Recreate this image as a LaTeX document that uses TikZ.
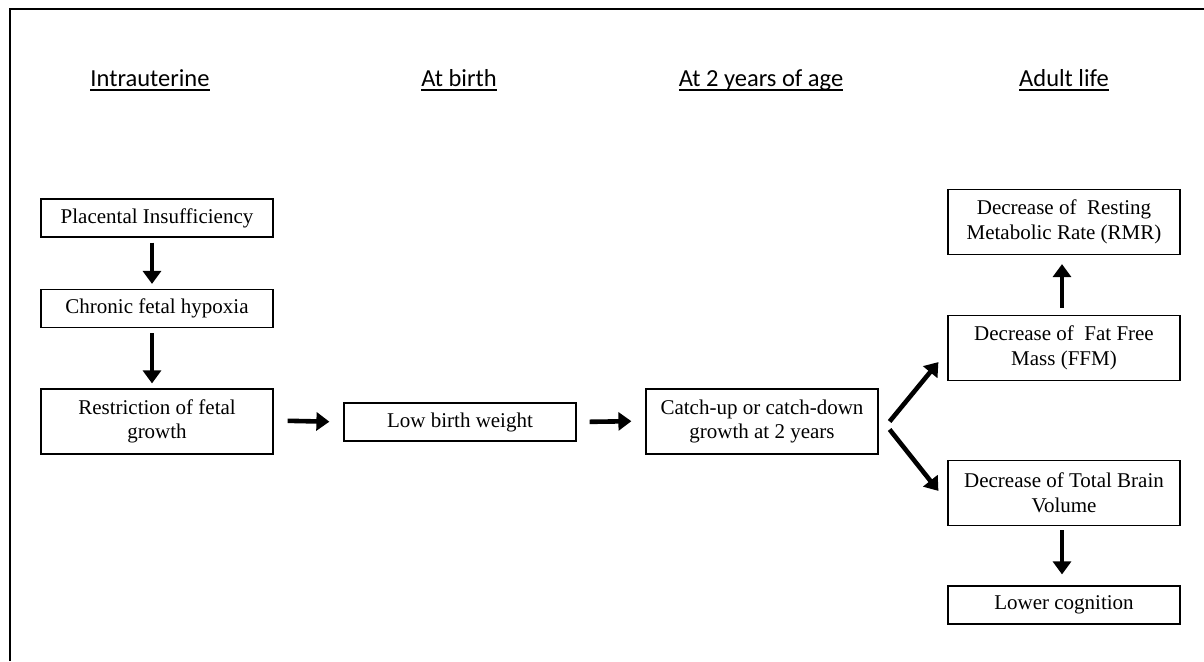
\documentclass[tikz,border=0pt]{standalone}
\usepackage{fontspec}
\setmainfont{Liberation Serif}
\newfontfamily\hfont{Carlito}
\usetikzlibrary{arrows.meta}
\newcommand\hul[1]{\setbox0\hbox{#1}\rlap{\rule[-4.5pt]{\wd0}{1.8pt}}\box0}
\begin{document}
\begin{tikzpicture}[x=1pt,y=-1pt,
  box/.style={draw,line width=1.2pt,minimum width=232pt,align=center,inner sep=0pt,
    font=\fontsize{21}{24.5}\selectfont},
  one/.style={box,minimum height=38pt},
  two/.style={box,minimum height=65pt},
  head/.style={anchor=base,inner sep=0pt,font=\hfont\fontsize{24.5}{28}\selectfont},
  arr/.style={line width=4.6pt,-{Triangle[length=13pt,width=18pt]}}]
\useasboundingbox (0,0) rectangle (1204,661);
\draw[line width=2pt] (10,661) -- (10,9) -- (1204,9);
% headings
\node[head] (h1) at (150,86) {\hul{Intrauterine}};
\node[head] (h2) at (459,86) {\hul{At birth}};
\node[head] (h3) at (761,86) {\hul{At 2 years of age}};
\node[head] (h4) at (1064,86) {\hul{Adult life}};
% boxes
\node[one] (pi) at (157,218) {Placental Insufficiency};
\node[one] (cf) at (157,308.5) {Chronic fetal hypoxia};
\node[two] (rf) at (157,421.5) {Restriction of fetal\\growth};
\node[one] (lbw) at (460,422) {Low birth weight};
\node[two] (cu) at (762,421.5) {Catch-up or catch-down\\growth at 2 years};
\node[two] (rmr) at (1064,222) {Decrease of\ \ Resting\\Metabolic Rate (RMR)};
\node[two] (ffm) at (1064,348) {Decrease of\ \ Fat Free\\Mass (FFM)};
\node[two] (br) at (1064,493) {Decrease of Total Brain\\Volume};
\node[one] (lc) at (1064,605) {Lower cognition};
% arrows
\draw[arr,shorten <=5pt,shorten >=5pt] ([xshift=-5pt]pi.south) -- ([xshift=-5pt]cf.north);
\draw[arr,shorten <=5pt,shorten >=5pt] ([xshift=-5pt]cf.south) -- ([xshift=-5pt]rf.north);
\draw[arr,shorten <=14pt,shorten >=14pt] ([yshift=1pt]rf.east) -- (lbw.west);
\draw[arr,shorten <=13pt,shorten >=14pt] (lbw.east) -- ([yshift=0.5pt]cu.west);
\draw[arr] ([shift={(11,0)}]cu.east) -- ([shift={(-9,-19)}]ffm.south west);
\draw[arr] ([shift={(11,8)}]cu.east) -- ([shift={(-9,31)}]br.north west);
\draw[arr,shorten <=7pt,shorten >=9pt] ([xshift=-2pt]ffm.north) -- ([xshift=-2pt]rmr.south);
\draw[arr,shorten <=4pt,shorten >=11pt] ([xshift=-2pt]br.south) -- ([xshift=-2pt]lc.north);
\end{tikzpicture}
\end{document}
